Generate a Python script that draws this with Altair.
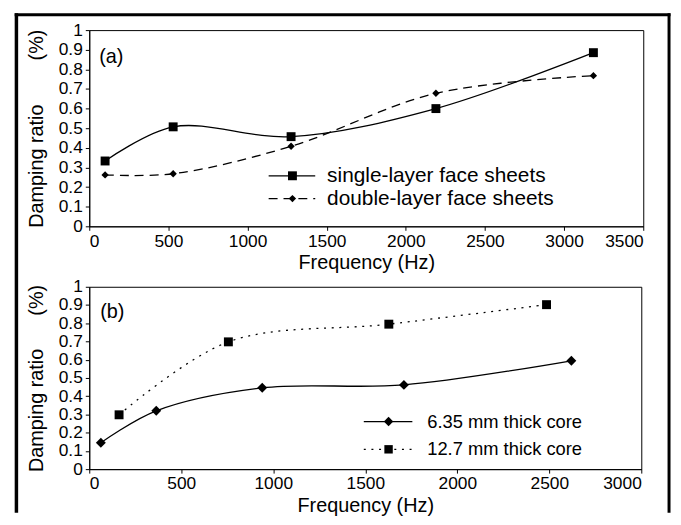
import altair as alt
import pandas as pd

FONT = "Liberation Sans"

# ---------------- data ----------------
# Panel (a)
freq_a = [100, 530, 1275, 2190, 3185]
single_layer = [0.333, 0.507, 0.457, 0.600, 0.885]
double_layer = [0.262, 0.268, 0.408, 0.678, 0.768]
labels_a = ["single-layer face sheets", "double-layer face sheets"]

# Panel (b)
freq_thin = [63, 364, 940, 1710, 2620]
thin_core = [0.145, 0.320, 0.446, 0.462, 0.594]
freq_thick = [162, 756, 1628, 2485]
thick_core = [0.298, 0.698, 0.795, 0.902]
labels_b = ["6.35 mm thick core", "12.7 mm thick core"]

x_ticks_a = [0, 500, 1000, 1500, 2000, 2500, 3000, 3500]
x_ticks_b = [0, 500, 1000, 1500, 2000, 2500, 3000]
y_ticks = [0, 0.1, 0.2, 0.3, 0.4, 0.5, 0.6, 0.7, 0.8, 0.9, 1]

x_title = "Frequency (Hz)"
y_title_a = "Damping ratio" + "\u00a0" * 8 + "(%)"
y_title_b = "Damping ratio" + "\u00a0" * 6 + "(%)"

LINE_W = 1.3


def axes(x_ticks, y_title):
    x = alt.X(
        "f:Q",
        scale=alt.Scale(domain=[x_ticks[0], x_ticks[-1]], nice=False, zero=False),
        axis=alt.Axis(values=x_ticks, format="d", title=x_title, titlePadding=3),
    )
    y = alt.Y(
        "v:Q",
        scale=alt.Scale(domain=[0, 1], nice=False),
        axis=alt.Axis(values=y_ticks, format=".1~f", title=y_title, titlePadding=12),
    )
    return x, y


def series(freqs, vals, x, y, shape, size, dash=None):
    df = pd.DataFrame({"f": freqs, "v": vals})
    kw = {}
    if dash is not None:
        kw["strokeDash"] = dash
    line = alt.Chart(df).mark_line(
        color="black", strokeWidth=LINE_W, interpolate="catmull-rom", **kw
    ).encode(x=x, y=y)
    pts = alt.Chart(df).mark_point(
        shape=shape, filled=True, size=size, color="black", opacity=1
    ).encode(x=x, y=y)
    return [line, pts]


def legend_row(label, lx0, lx1, mx, tx, ty, shape, size, font_size, dash=None):
    df = pd.DataFrame({"label": [label]})
    kw = {}
    if dash is not None:
        kw["strokeDash"] = dash
    rule = alt.Chart(df).mark_rule(color="black", strokeWidth=LINE_W, **kw).encode(
        x=alt.value(lx0), x2=alt.value(lx1), y=alt.value(ty)
    )
    pt = alt.Chart(df).mark_point(
        shape=shape, filled=True, size=size, color="black", opacity=1
    ).encode(x=alt.value(mx), y=alt.value(ty))
    txt = alt.Chart(df).mark_text(
        align="left", baseline="middle", font=FONT, fontSize=font_size, color="black"
    ).encode(text="label:N", x=alt.value(tx), y=alt.value(ty))
    return [rule, pt, txt]


def panel_label(text, px, py):
    df = pd.DataFrame({"label": [text]})
    return alt.Chart(df).mark_text(
        align="left", baseline="middle", font=FONT, fontSize=20, color="black"
    ).encode(text="label:N", x=alt.value(px), y=alt.value(py))


# ---------------- panel (a) ----------------
xa, ya = axes(x_ticks_a, y_title_a)
layers_a = []
layers_a += series(freq_a, single_layer, xa, ya, "square", 81)
layers_a += series(freq_a, double_layer, xa, ya, "diamond", 55, dash=[9, 6])
layers_a += legend_row(labels_a[0], 181, 228, 205, 240, 147, "square", 81, 21)
layers_a += legend_row(labels_a[1], 181, 228, 205, 240, 170, "diamond", 55, 21, dash=[9, 6])
layers_a.append(panel_label("(a)", 10, 27))

# outer frame of the whole figure (drawn relative to panel (a))
frame_df = pd.DataFrame({"k": [0]})
frame = [
    alt.Chart(frame_df).mark_rule(color="black", strokeWidth=3.5).encode(
        x=alt.value(-73.5), y=alt.value(-17), y2=alt.value(487)
    ),
    alt.Chart(frame_df).mark_rule(color="black", strokeWidth=3).encode(
        x=alt.value(-75.25), x2=alt.value(586.5), y=alt.value(-15.5)
    ),
    alt.Chart(frame_df).mark_rule(color="black", strokeWidth=3).encode(
        x=alt.value(585), y=alt.value(-17), y2=alt.value(487)
    ),
]
layers_a += frame

panel_a = alt.layer(*layers_a).properties(width=559, height=198)

# ---------------- panel (b) ----------------
xb, yb = axes(x_ticks_b, y_title_b)
layers_b = []
layers_b += series(freq_thin, thin_core, xb, yb, "diamond", 100)
layers_b += series(freq_thick, thick_core, xb, yb, "square", 81, dash=[2, 5.7])
layers_b += legend_row(labels_b[0], 277, 326, 302, 341, 136, "diamond", 90, 18.5)
layers_b += legend_row(labels_b[1], 277, 326, 302, 341, 164, "square", 72, 18.5, dash=[2, 5.7])
layers_b.append(panel_label("(b)", 11, 26))

panel_b = alt.layer(*layers_b).properties(width=557, height=184)

chart = (
    alt.vconcat(panel_a, panel_b, spacing=61, bounds="flush")
    .properties(padding={"left": 4, "top": 0, "right": 0, "bottom": 0})
    .configure_view(stroke="black", strokeWidth=1)
    .configure_axis(
        grid=False,
        labelFont=FONT,
        titleFont=FONT,
        labelFontSize=17.5,
        titleFontSize=20,
        titleFontWeight="normal",
        labelColor="black",
        titleColor="black",
        domainColor="black",
        tickColor="black",
        tickSize=4,
        labelPadding=2,
        domainWidth=1,
    )
    .configure_axisY(labelPadding=3)
)

chart.save("out.html", embed_options={"renderer": "svg", "actions": False})
